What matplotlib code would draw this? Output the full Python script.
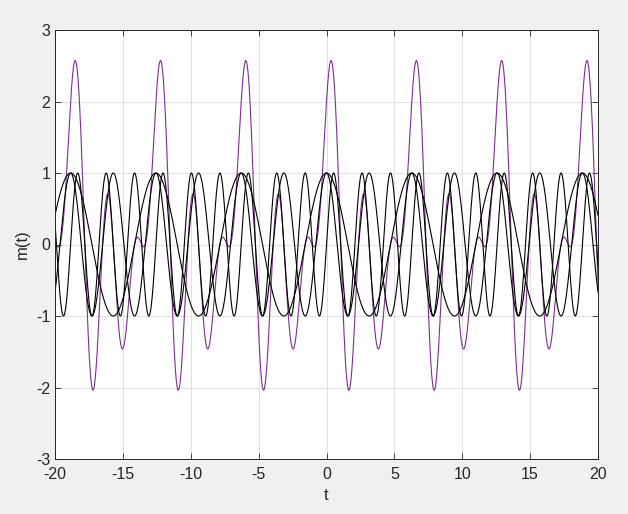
import numpy as np
import matplotlib.pyplot as plt

# component sinusoids: m(t) = cos(t) + cos(2t) + sin(3t)
freqs = [1, 2, 3]
phases = [0.0, 0.0, -np.pi / 2]   # cos(w t + phase)
amps = [1, 1, 1]

t_min, t_max = -20, 20
xticks = [-20, -15, -10, -5, 0, 5, 10, 15, 20]
yticks = [-3, -2, -1, 0, 1, 2, 3]

t = np.linspace(t_min, t_max, 4001)
parts = [a * np.cos(w * t + p) for a, w, p in zip(amps, freqs, phases)]
m = np.sum(parts, axis=0)

plt.rcParams['font.family'] = ['Liberation Sans', 'DejaVu Sans']
plt.rcParams['axes.unicode_minus'] = False

fig = plt.figure(figsize=(6.28, 5.14), dpi=100, facecolor='#f0f0f0')
ax = fig.add_axes([55 / 628, 1 - 459 / 514, 543 / 628, 429 / 514])
ax.set_facecolor('white')

ax.plot(t, m, color='#7e2f8e', lw=0.8)
for y in parts:
    ax.plot(t, y, color='black', lw=0.8)

ax.set_xlim(t_min, t_max)
ax.set_ylim(-3, 3)
ax.set_xticks(xticks)
ax.set_yticks(yticks)
ax.grid(True, color='#dcdcdc', lw=0.6)
ax.set_axisbelow(True)
ax.tick_params(direction='in', length=4, width=0.6, colors='#262626',
               labelsize=11.5, top=True, right=True, labeltop=False, labelright=False)
ax.tick_params(axis='x', pad=6)
for s in ax.spines.values():
    s.set_color('#262626')
    s.set_linewidth(0.7)

ax.set_xlabel('t', fontsize=12, color='#262626', labelpad=4)
ax.set_ylabel('m(t)', fontsize=12, color='#262626')

fig.savefig('out.png', dpi=100, facecolor=fig.get_facecolor())
